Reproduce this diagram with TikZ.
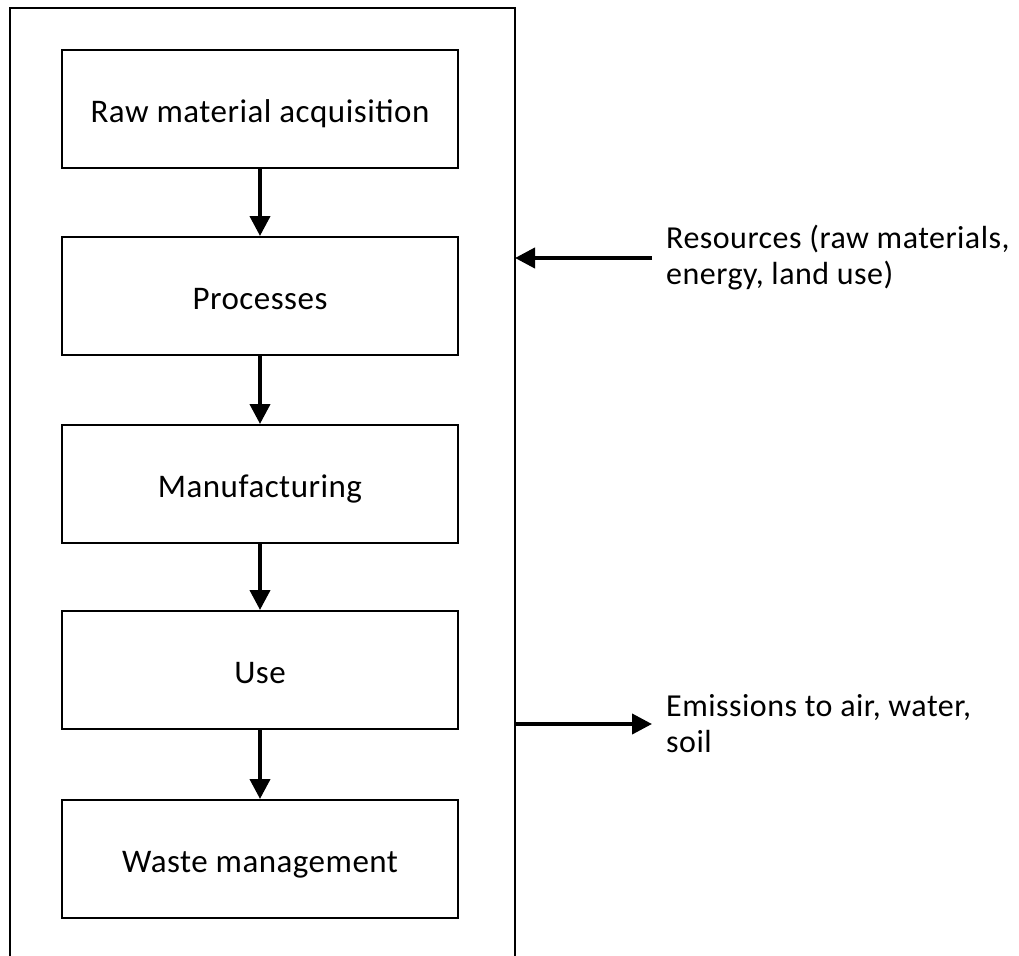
\documentclass[tikz,border=0pt]{standalone}
\usepackage{fontspec}
\setmainfont[LetterSpace=1.5]{Carlito}
\usetikzlibrary{arrows.meta}
\begin{document}
\begin{tikzpicture}[x=1pt,y=-1pt,
  stage/.style={draw,line width=2pt,minimum width=396pt,minimum height=118pt,
    inner sep=0pt,text height=27pt,text depth=0pt,font=\fontsize{33}{36}\selectfont},
  flow/.style={line width=4pt,-{Triangle[width=20pt,length=20pt]}},
  note/.style={anchor=west,align=left,inner sep=0pt,font=\fontsize{32}{36}\selectfont}]
\useasboundingbox (0,0) rectangle (1019,955);
\begin{scope}
\clip (0,0) rectangle (1019,955);
\draw[line width=2pt] (10,980) -- (10,8) -- (515,8) -- (515,980);
\end{scope}
\node[stage] (raw) at (260,109) {Raw material acquisition};
\node[stage] (proc) at (260,296) {Processes};
\node[stage] (manu) at (260,484) {Manufacturing};
\node[stage] (use) at (260,670) {Use};
\node[stage] (waste) at (260,859) {Waste management};
\draw[flow] (raw) -- (proc);
\draw[flow] (proc) -- (manu);
\draw[flow] (manu) -- (use);
\draw[flow] (use) -- (waste);
\coordinate (bin) at (515,258);
\coordinate (bout) at (515,724);
\node[note] (res) at (666,258) {Resources (raw materials,\\energy, land use)};
\node[note] (emi) at (666,724) {Emissions to air, water,\\soil};
\draw[flow] (652,258) -- (bin);
\draw[flow] (bout) -- (652,724);
\end{tikzpicture}
\end{document}
